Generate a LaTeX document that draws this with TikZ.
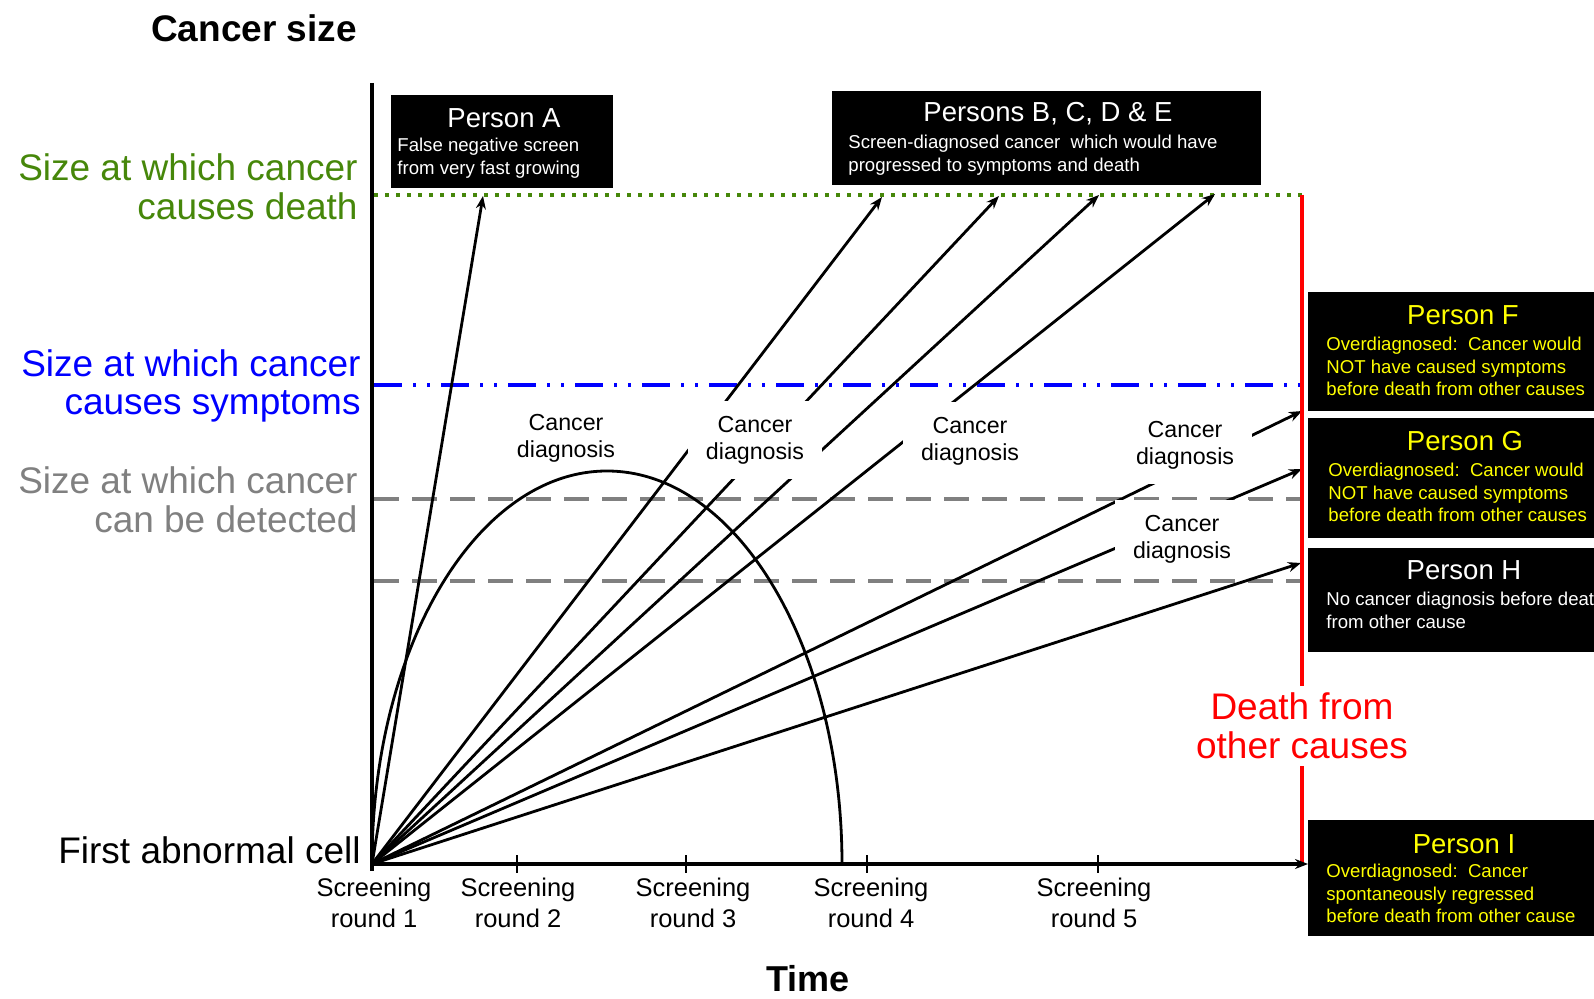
\documentclass[tikz,border=0pt]{standalone}
\usepackage{fontspec}
\setmainfont{Liberation Sans}
\usetikzlibrary{arrows.meta}
\definecolor{deathgreen}{RGB}{70,135,10}
\definecolor{detectgray}{RGB}{128,128,128}
\definecolor{sympblue}{RGB}{0,0,255}
\definecolor{boxyellow}{RGB}{255,255,0}
\newcommand{\levelfont}{\fontsize{18.5}{19.3}\selectfont}
\newcommand{\diagfont}{\fontsize{11.6}{13.5}\selectfont}
\newcommand{\titlefont}{\fontsize{13.75}{16}\selectfont}
\newcommand{\boxfont}{\fontsize{9.3}{11.25}\selectfont}
\newcommand{\roundfont}{\fontsize{12.75}{15.75}\selectfont}

\begin{document}
\begin{tikzpicture}[x=0.5pt, y=-0.5pt,
    growth/.style={line width=1.4pt, -{Stealth[length=6.5pt, width=5pt]}},
    diag/.style={fill=white, align=center, font=\diagfont, inner xsep=9pt, inner ysep=7.5pt},
    level/.style={font=\levelfont, align=right, anchor=east, inner sep=0pt},
    personbox/.style={fill=black, inner sep=0pt},
    boxtitle/.style={font=\titlefont, inner sep=0pt},
    boxtext/.style={font=\boxfont, align=left, anchor=north west, inner sep=0pt},
    rounds/.style={font=\roundfont, align=center, inner sep=0pt}]
    \useasboundingbox (0,0) rectangle (1594,999);
    \clip (0,0) rectangle (1594,999);

    \coordinate (O) at (372,864);
    \coordinate (ytop) at (372,83);
    \coordinate (ybot) at (372,871);
    \coordinate (tipA) at (483,196);
    \coordinate (tipB) at (882,197);
    \coordinate (tipC) at (999,196);
    \coordinate (tipD) at (1099,195);
    \coordinate (tipE) at (1215,194);
    \coordinate (tipF) at (1302,411);
    \coordinate (tipG) at (1302,469);
    \coordinate (tipH) at (1301,563);
    \coordinate (tipI) at (1308,864);
    \coordinate (redtop) at (1302,195);
    \coordinate (redbot) at (1302,864);

    \draw[deathgreen, line width=1.75pt, dash pattern=on 1.75pt off 3.75pt] (374,195) -- (1303,195);
    \draw[sympblue, line width=2pt, dash pattern=on 14pt off 5.5pt on 1.5pt off 5.5pt on 1.5pt off 5.5pt] (374,385) -- (1308,385);
    \draw[detectgray, line width=2pt, dash pattern=on 12.5pt off 6.5pt] (374,499) -- (1303,499);
    \draw[detectgray, line width=2pt, dash pattern=on 12.5pt off 6.5pt] (374,581) -- (1303,581);

    \draw[growth] (O) -- (tipA);
    \draw[growth] (O) -- (tipB);
    \draw[growth] (O) -- (tipC);
    \draw[growth] (O) -- (tipD);
    \draw[growth] (O) -- (tipE);
    \draw[growth] (O) -- (tipF);
    \draw[growth] (O) -- (tipG);
    \draw[growth] (O) -- (tipH);

    \node[diag] (diag1) at (566,438) {Cancer\\diagnosis};
    \node[diag] (diag2) at (755,440) {Cancer\\diagnosis};
    \node[diag] (diag3) at (970,441) {Cancer\\diagnosis};
    \node[diag] (diag4) at (1185,445) {Cancer\\diagnosis};
    \node[diag] (diag5) at (1182,539) {Cancer\\diagnosis};

    \draw[line width=1.4pt] (O) arc[start angle=180, end angle=0, x radius=117.5pt, y radius=196.5pt];

    \draw[red, line width=1.6pt] (redtop) -- (redbot);
    \node[fill=white, text=red, font=\levelfont, align=center, inner sep=3.5pt] (death) at (1302,726) {Death from\\other causes};

    \draw[line width=1.75pt] (ytop) -- (ybot);
    \draw[line width=2pt, -{Stealth[length=6.5pt, width=5pt]}] (O) -- (tipI);
    \foreach \tx in {517,686,867,1098}
        \draw[line width=0.6pt] (\tx,855) -- (\tx,873);

    \node[font=\bfseries\levelfont] (ylabel) at (254,28) {Cancer size};
    \node[font=\bfseries\fontsize{18}{20}\selectfont] (xlabel) at (808,979) {Time};
    \node[level, deathgreen] (lvldeath) at (358,187) {Size at which cancer\\causes death};
    \node[level, sympblue] (lvlsymp) at (361,386) {Size at which cancer\\causes symptoms};
    \node[level, detectgray] (lvldetect) at (358,500) {Size at which cancer\\can be detected};
    \node[level] (lvlcell) at (361,850) {First abnormal cell};

    \node[rounds] (round1) at (374,903) {Screening\\round 1};
    \node[rounds] (round2) at (518,903) {Screening\\round 2};
    \node[rounds] (round3) at (693,903) {Screening\\round 3};
    \node[rounds] (round4) at (871,903) {Screening\\round 4};
    \node[rounds] (round5) at (1094,903) {Screening\\round 5};

    \node[personbox, minimum width=111pt, minimum height=46.5pt] (boxA) at (502,141.5) {};
    \node[boxtitle, white] (titleA) at (504,118) {Person A};
    \node[boxtext, white] (textA) at (397,138) {False negative screen\\from very fast growing};

    \node[personbox, minimum width=214.5pt, minimum height=47pt] (boxBE) at (1046.5,138) {};
    \node[boxtitle, white] (titleBE) at (1048,114) {Persons B, C, D \& E};
    \node[boxtext, white] (textBE) at (848,135) {Screen-diagnosed cancer~~which would have\\progressed to symptoms and death};

    \node[personbox, minimum width=156pt, minimum height=59.5pt] (boxF) at (1464,351.5) {};
    \node[boxtitle, boxyellow] (titleF) at (1463,315) {Person F};
    \node[boxtext, boxyellow] (textF) at (1326,337) {Overdiagnosed:~~Cancer would\\NOT have caused symptoms\\before death from other causes};

    \node[personbox, minimum width=156pt, minimum height=60pt] (boxG) at (1464,478) {};
    \node[boxtitle, boxyellow] (titleG) at (1465,441) {Person G};
    \node[boxtext, boxyellow] (textG) at (1328,463) {Overdiagnosed:~~Cancer would\\NOT have caused symptoms\\before death from other causes};

    \node[personbox, minimum width=156pt, minimum height=52pt] (boxH) at (1464,600) {};
    \node[boxtitle, white] (titleH) at (1464,570) {Person H};
    \node[boxtext, white] (textH) at (1326,592) {No cancer diagnosis before death\\from other cause};

    \node[personbox, minimum width=156pt, minimum height=58pt] (boxI) at (1464,878) {};
    \node[boxtitle, boxyellow] (titleI) at (1464,844) {Person I};
    \node[boxtext, boxyellow] (textI) at (1326,864) {Overdiagnosed:~~Cancer\\spontaneously regressed\\before death from other cause};
\end{tikzpicture}
\end{document}
